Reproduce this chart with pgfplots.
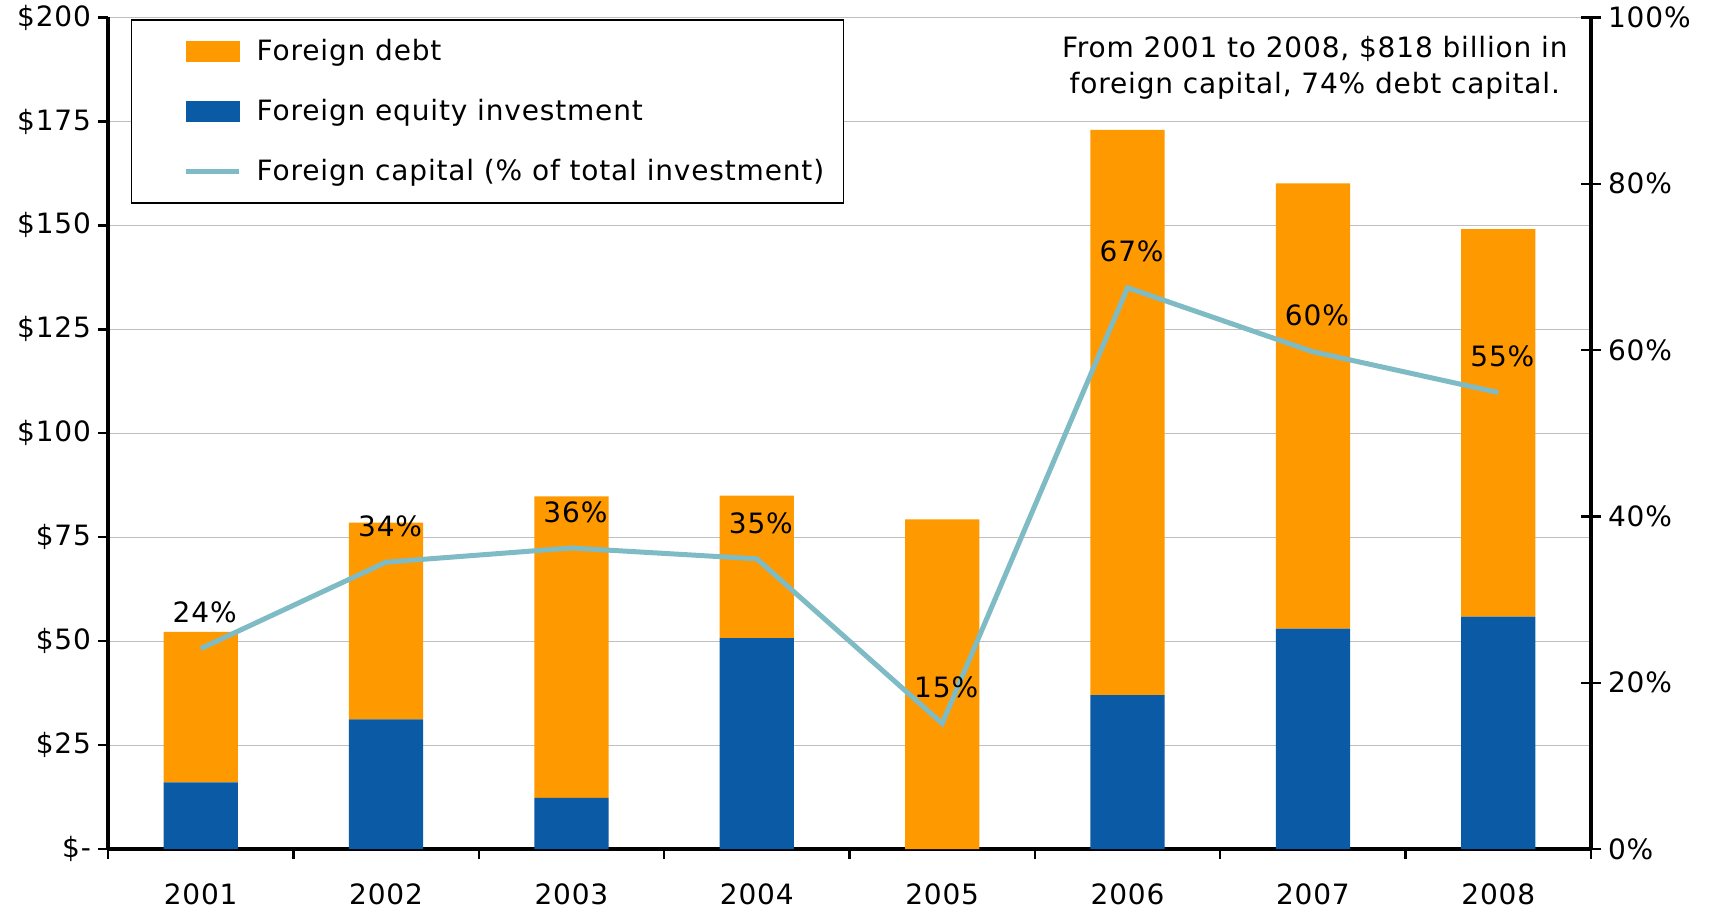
\documentclass[border=0pt]{standalone}
\usepackage{pgfplots}
\pgfplotsset{compat=1.18}
\usepackage{fontspec}
\setmainfont{DejaVu Sans}[LetterSpace=3]
\definecolor{cdebt}{HTML}{FF9900}
\definecolor{cequity}{HTML}{0B5AA5}
\definecolor{cline}{HTML}{7FBBC5}
\newcommand\f{\fontsize{14pt}{18pt}\selectfont}
\begin{document}
\begin{tikzpicture}
\begin{axis}[name=ax, scale only axis, width=741.5pt, height=415.75pt,
  xmin=-0.5, xmax=7.5, ymin=0, ymax=200,
  axis x line*=bottom, axis y line*=left,
  axis line style={line width=1.6pt},
  ybar stacked, bar width=0.4,
  xtick={-0.5,0.5,...,7.5},
  xticklabels={2001,2002,2003,2004,2005,2006,2007,2008,{}},
  xticklabel style={xshift=46.34pt, yshift=-9pt},
  ytick={0,25,...,200},
  yticklabels={{\$-},{\$25},{\$50},{\$75},{\$100},{\$125},{\$150},{\$175},{\$200}},
  tick align=outside, major tick length=5pt,
  tick style={black, line width=1.2pt},
  tick label style={font=\f},
  ymajorgrids=true, grid style={gray!50, line width=0.4pt},
  clip=false,
]
\addplot[fill=cequity, draw=none] coordinates {(0,16.0) (1,31.2) (2,12.3) (3,50.7) (4,0) (5,37.0) (6,53.0) (7,55.9)};
\addplot[fill=cdebt, draw=none] coordinates {(0,36.2) (1,47.3) (2,72.5) (3,34.3) (4,79.3) (5,136.0) (6,107.1) (7,93.2)};
\node[font=\f, align=center] at (axis cs:6.01,188.0) {From 2001 to 2008, \$818 billion in\\foreign capital, 74\% debt capital.};
\end{axis}
\begin{axis}[scale only axis, width=741.5pt, height=415.75pt,
  xmin=-0.5, xmax=7.5, ymin=0, ymax=100,
  axis x line=none, axis y line*=right,
  axis line style={line width=1.6pt},
  ytick={0,20,...,100},
  yticklabels={0\%,20\%,40\%,60\%,80\%,100\%},
  tick align=center, major tick length=10pt,
  tick style={black, line width=1.2pt},
  tick label style={font=\f},
  legend style={at={(axis cs:-0.5,100)}, anchor=north west, xshift=11.5pt, yshift=-1pt,
    draw=black, line width=0.6pt, font=\f, inner xsep=7.5pt, inner ysep=7.5pt,
    row sep=14pt, /tikz/every odd column/.append style={column sep=5.5pt}},
  legend cell align=left,
  clip=false,
]
\addlegendimage{legend image code/.code={\path (0pt,-5pt); \fill[cdebt] (19.5pt,-5pt) rectangle (46pt,5pt);}}
\addlegendentry{Foreign debt}
\addlegendimage{legend image code/.code={\path (0pt,-5pt); \fill[cequity] (19.5pt,-5pt) rectangle (46pt,5pt);}}
\addlegendentry{Foreign equity investment}
\addlegendimage{legend image code/.code={\path (0pt,-5pt); \path (0pt,5pt); \draw[cline, line width=2.5pt] (19.5pt,0pt) -- (46pt,0pt);}}
\addlegendentry{Foreign capital (\% of total investment)}
\addplot[cline, line width=2.5pt, mark=none, forget plot,
  nodes near coords, point meta=explicit symbolic,
  every node near coord/.append style={font=\f, text=black, anchor=center, yshift=18pt, xshift=2pt}]
  coordinates {(0,24.1)[24\%] (1,34.5)[34\%] (2,36.2)[36\%] (3,34.9)[35\%] (4,15.1)[15\%] (5,67.5)[67\%] (6,59.8)[60\%] (7,54.9)[55\%]};
\end{axis}
\pgfresetboundingbox
\path ([shift={(-54pt,-31pt)}]ax.south west) rectangle ([shift={(60pt,8.75pt)}]ax.north east);
\end{tikzpicture}
\end{document}
